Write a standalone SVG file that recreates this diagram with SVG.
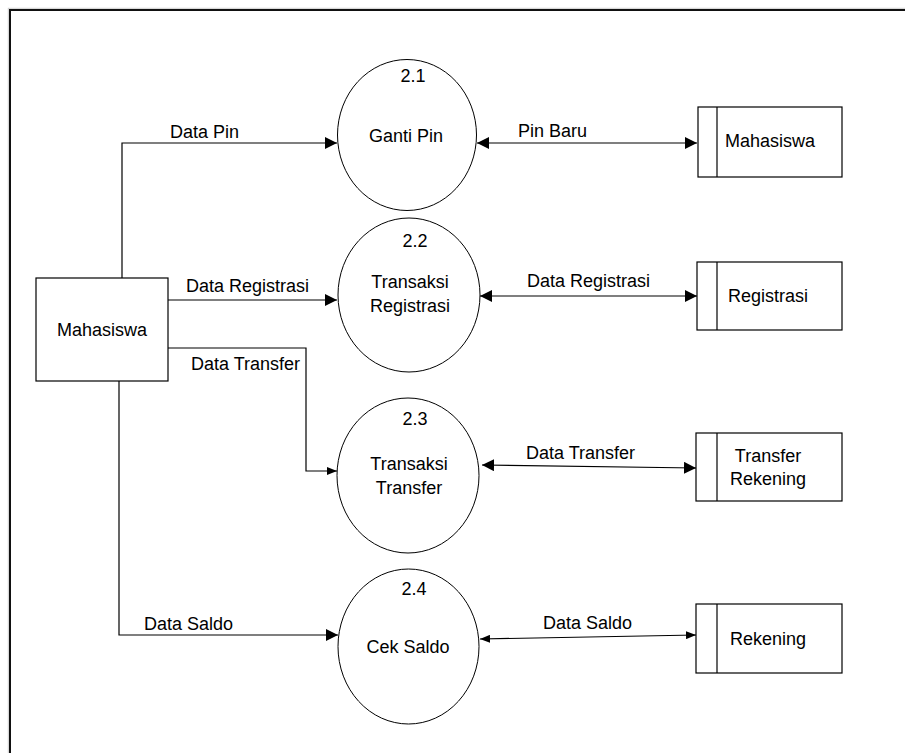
<svg xmlns="http://www.w3.org/2000/svg" width="905" height="753" viewBox="0 0 905 753">
  <style>
    text { font-family: "Liberation Sans", Arial, sans-serif; font-size: 18px; fill: #000; }
    .c { text-anchor: middle; }
    .proc { fill: #fff; stroke: #000; stroke-width: 1; }
    .box { fill: #fff; stroke: #000; stroke-width: 1.2; }
    .flow { fill: none; stroke: #000; stroke-width: 1.2; }
  </style>
  <defs>
    <marker id="arrow" viewBox="0 0 12 12" refX="12" refY="6" markerWidth="12" markerHeight="12" markerUnits="userSpaceOnUse" orient="auto-start-reverse">
      <path d="M0,0 L12,6 L0,12 z" fill="#000"/>
    </marker>
    <marker id="arrow-sm" viewBox="0 0 10 8" refX="10" refY="4" markerWidth="10" markerHeight="8" markerUnits="userSpaceOnUse" orient="auto-start-reverse">
      <path d="M0,0 L10,4 L0,8 z" fill="#000"/>
    </marker>
  </defs>

  <rect width="905" height="753" fill="#fff"/>
  <!-- page frame -->
  <rect x="8.3" y="8.3" width="1000" height="1000" fill="none" stroke="#cfcfcf" stroke-width="1"/>
  <rect x="10" y="10" width="1000" height="1000" fill="none" stroke="#111" stroke-width="2"/>

  <!-- connectors -->
  <g id="connectors">
    <polyline class="flow" points="122,278 122,143 337,143" marker-end="url(#arrow)"/>
    <line class="flow" x1="168" y1="300" x2="337" y2="300" marker-end="url(#arrow)"/>
    <polyline class="flow" points="168,348 306,348 306,471 337,471" marker-end="url(#arrow-sm)"/>
    <polyline class="flow" points="119,381 119,635 338,635" marker-end="url(#arrow)"/>
    <line class="flow" x1="477" y1="143" x2="697" y2="143" marker-start="url(#arrow)" marker-end="url(#arrow)"/>
    <line class="flow" x1="480" y1="296" x2="697" y2="296" marker-start="url(#arrow)" marker-end="url(#arrow)"/>
    <line class="flow" x1="482" y1="465" x2="696" y2="468" marker-start="url(#arrow)" marker-end="url(#arrow)"/>
    <line class="flow" x1="480" y1="639" x2="696" y2="635" marker-start="url(#arrow-sm)" marker-end="url(#arrow-sm)"/>

    <text x="170" y="138">Data Pin</text>
    <text x="518" y="137">Pin Baru</text>
    <text x="186" y="292">Data Registrasi</text>
    <text x="527" y="287">Data Registrasi</text>
    <text x="191" y="370">Data Transfer</text>
    <text x="526" y="459">Data Transfer</text>
    <text x="144" y="630">Data Saldo</text>
    <text x="543" y="629">Data Saldo</text>
  </g>

  <!-- external entity -->
  <g id="ext-mahasiswa">
    <rect class="box" x="36" y="278" width="132" height="103"/>
    <text class="c" x="102" y="336">Mahasiswa</text>
  </g>

  <!-- processes -->
  <g id="proc-2-1">
    <ellipse class="proc" cx="407" cy="135" rx="69.5" ry="75.5"/>
    <text class="c" x="413" y="82">2.1</text>
    <text class="c" x="406" y="142">Ganti Pin</text>
  </g>
  <g id="proc-2-2">
    <ellipse class="proc" cx="409" cy="295" rx="71" ry="77"/>
    <text class="c" x="415" y="247">2.2</text>
    <text class="c" x="410" y="288">Transaksi</text>
    <text class="c" x="410" y="312">Registrasi</text>
  </g>
  <g id="proc-2-3">
    <ellipse class="proc" cx="408" cy="475.5" rx="71" ry="77.5"/>
    <text class="c" x="415" y="425">2.3</text>
    <text class="c" x="409" y="470">Transaksi</text>
    <text class="c" x="409" y="494">Transfer</text>
  </g>
  <g id="proc-2-4">
    <ellipse class="proc" cx="408.5" cy="646.5" rx="70.5" ry="77.5"/>
    <text class="c" x="414" y="595">2.4</text>
    <text class="c" x="408" y="653">Cek Saldo</text>
  </g>

  <!-- data stores -->
  <g id="store-mahasiswa">
    <rect class="box" x="698" y="107" width="144" height="70"/>
    <line class="box" x1="717" y1="107" x2="717" y2="177"/>
    <text class="c" x="770" y="147">Mahasiswa</text>
  </g>
  <g id="store-registrasi">
    <rect class="box" x="697" y="262" width="145" height="68"/>
    <line class="box" x1="717" y1="262" x2="717" y2="330"/>
    <text class="c" x="768" y="302">Registrasi</text>
  </g>
  <g id="store-transfer-rekening">
    <rect class="box" x="696" y="433" width="146" height="68"/>
    <line class="box" x1="717" y1="433" x2="717" y2="501"/>
    <text class="c" x="768" y="462">Transfer</text>
    <text class="c" x="768" y="485">Rekening</text>
  </g>
  <g id="store-rekening">
    <rect class="box" x="696" y="604" width="146" height="69"/>
    <line class="box" x1="717" y1="604" x2="717" y2="673"/>
    <text class="c" x="768" y="645">Rekening</text>
  </g>
</svg>
